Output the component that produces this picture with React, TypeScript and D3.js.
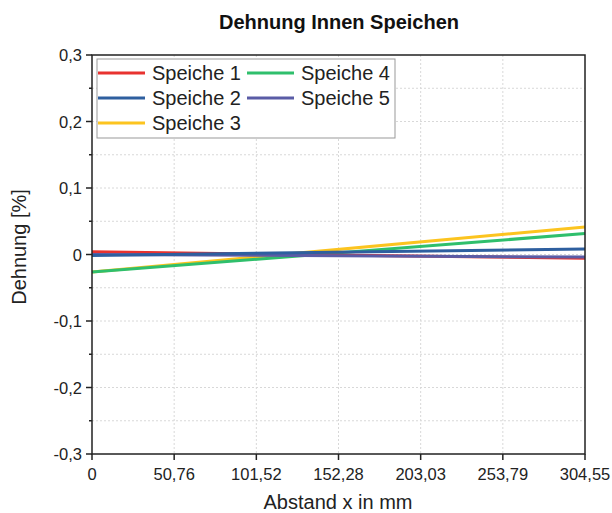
import React from "react";
import * as d3 from "d3";

const xTicks = [0, 50.76, 101.52, 152.28, 203.03, 253.79, 304.55];
const xTickLabels = ["0", "50,76", "101,52", "152,28", "203,03", "253,79", "304,55"];
const yTicks = [-0.3, -0.2, -0.1, 0, 0.1, 0.2, 0.3];
const yTickLabels = ["-0,3", "-0,2", "-0,1", "0", "0,1", "0,2", "0,3"];
const xValues = [0, 304.55];
const seriesNames = ["Speiche 1", "Speiche 2", "Speiche 3", "Speiche 4", "Speiche 5"];
const s1 = [0.004, -0.0057];
const s2 = [-0.0015, 0.0083];
const s3 = [-0.0262, 0.0415];
const s4 = [-0.0264, 0.0314];
const s5 = [0.0, -0.0038];
const colors = ["#e8322f", "#2e5f9f", "#fcc41f", "#2fbf6c", "#5a5ca6"];

export default function App() {
  const W = 612, H = 513;
  const left = 92, right = 585, top = 55, bottom = 454;
  const x = d3.scaleLinear().domain([0, 304.55]).range([left, right]);
  const y = d3.scaleLinear().domain([-0.3, 0.3]).range([bottom, top]);
  const line = d3.line<[number, number]>().x(d => x(d[0])).y(d => y(d[1]));
  const all = [s1, s2, s3, s4, s5];
  const drawOrder = [2, 3, 0, 4, 1];
  const grid = d3.range(-0.25, 0.3, 0.05);
  const minor = d3.range(-0.25, 0.3, 0.1);
  const font = "Liberation Sans, Arial, sans-serif";
  const legendItems = [
    { i: 0, cx: 98, cy: 73 },
    { i: 1, cx: 98, cy: 98 },
    { i: 2, cx: 98, cy: 123 },
    { i: 3, cx: 247, cy: 73 },
    { i: 4, cx: 247, cy: 98 },
  ];
  return (
    <svg width={W} height={H} style={{ position: "absolute", left: 0, top: 0, background: "#fff" }} fontFamily={font}>
      <text x={339} y={29} textAnchor="middle" fontSize={20} fontWeight="bold" fill="#111">Dehnung Innen Speichen</text>
      {grid.map((v, k) => (
        <line key={"gy" + k} x1={left} x2={right} y1={y(v)} y2={y(v)} stroke="#d8d8d8" strokeWidth={1} strokeDasharray="2,2" />
      ))}
      {xTicks.slice(1, -1).map((v, k) => (
        <line key={"gx" + k} x1={x(v)} x2={x(v)} y1={top} y2={bottom} stroke="#d8d8d8" strokeWidth={1} strokeDasharray="2,2" />
      ))}
      {drawOrder.map(i => (
        <path key={"s" + i} d={line(xValues.map((xv, j) => [xv, all[i][j]]) as [number, number][]) || ""} fill="none" stroke={colors[i]} strokeWidth={3} />
      ))}
      <rect x={left} y={top} width={right - left} height={bottom - top} fill="none" stroke="#222" strokeWidth={1.5} />
      {yTicks.map((v, k) => (
        <g key={"yt" + k}>
          <line x1={left - 6} x2={left} y1={y(v)} y2={y(v)} stroke="#222" strokeWidth={1.5} />
          <text x={left - 10} y={y(v) + 6} textAnchor="end" fontSize={16.5} fill="#222">{yTickLabels[k]}</text>
        </g>
      ))}
      {minor.map((v, k) => (
        <line key={"ym" + k} x1={left - 3} x2={left} y1={y(v)} y2={y(v)} stroke="#222" strokeWidth={1.5} />
      ))}
      {xTicks.map((v, k) => (
        <g key={"xt" + k}>
          <line x1={x(v)} x2={x(v)} y1={bottom} y2={bottom + 6} stroke="#222" strokeWidth={1.5} />
          <text x={x(v)} y={bottom + 26} textAnchor="middle" fontSize={16.5} fill="#222">{xTickLabels[k]}</text>
        </g>
      ))}
      <text x={338} y={509} textAnchor="middle" fontSize={20} fill="#222">Abstand x in mm</text>
      <text transform={`translate(26,247) rotate(-90)`} textAnchor="middle" fontSize={20} fill="#222">Dehnung [%]</text>
      <rect x={97} y={59} width={298} height={79} fill="#fff" stroke="#999" strokeWidth={1} />
      {legendItems.map(it => (
        <g key={"lg" + it.i}>
          <line x1={it.cx} x2={it.cx + 47} y1={it.cy} y2={it.cy} stroke={colors[it.i]} strokeWidth={3} />
          <text x={it.cx + 54} y={it.cy + 7} fontSize={20} fill="#222">{seriesNames[it.i]}</text>
        </g>
      ))}
    </svg>
  );
}
